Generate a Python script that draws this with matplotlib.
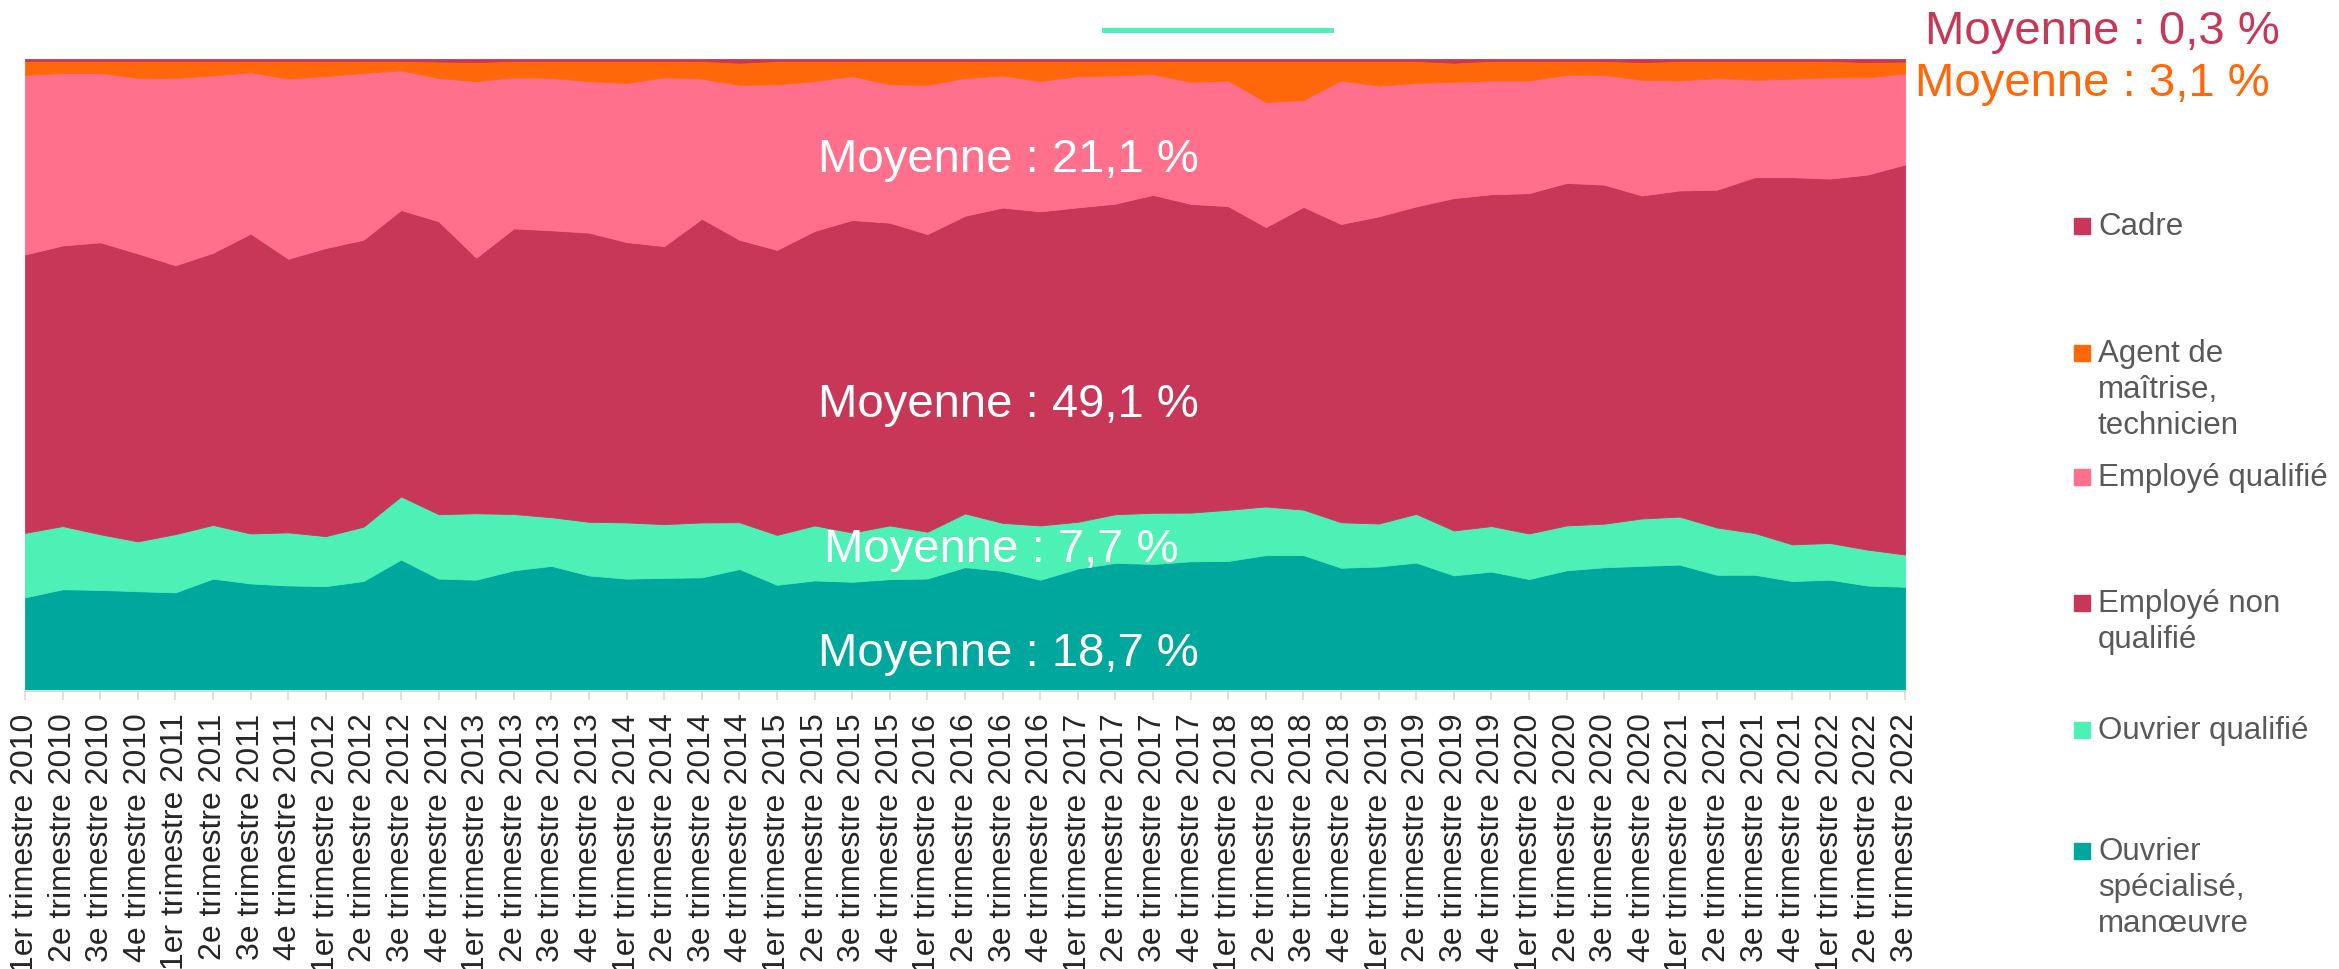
"""
Part of each job category per quarter, 2010-2022, as a 100 % stacked area.

Excel-style look: no y axis, the legend and the "Moyenne" labels are
placed by hand in pixel coordinates of the 2339x970 output.
"""
import numpy as np
import matplotlib
matplotlib.use("Agg")
import matplotlib.pyplot as plt
from matplotlib.lines import Line2D
from matplotlib.patches import Rectangle

W, H = 2339, 970

# ------------------------------------------------------------------ data
QUARTERS = ["1er", "2e", "3e", "4e"]
YEARS = list(range(2010, 2023))
categories = [f"{q} trimestre {y}" for y in YEARS for q in QUARTERS][:51]

ouvrier_specialise = [14.8, 16.1, 16.0, 15.8, 15.6, 17.8, 17.0, 16.7, 16.6, 17.4,
                      20.8, 17.8, 17.6, 19.1, 19.8, 18.3, 17.8, 17.9, 18.0, 19.3,
                      16.8, 17.5, 17.3, 17.7, 17.8, 19.6, 19.0, 17.6, 19.4, 20.3,
                      20.1, 20.5, 20.6, 21.5, 21.5, 19.5, 19.7, 20.3, 18.3, 18.9,
                      17.7, 19.1, 19.6, 19.8, 20.0, 18.4, 18.4, 17.4, 17.6, 16.7, 16.5]
ouvrier_qualifie = [10.2, 10.0, 8.8, 7.9, 9.2, 8.5, 7.9, 8.4, 7.9, 8.6,
                    10.0, 10.2, 10.5, 8.9, 7.7, 8.5, 8.9, 8.5, 8.7, 7.4,
                    7.9, 8.7, 7.8, 8.5, 7.4, 8.5, 7.6, 8.6, 7.4, 7.7,
                    8.1, 7.7, 8.1, 7.7, 7.2, 7.2, 6.8, 7.7, 7.1, 7.2,
                    7.2, 7.1, 6.9, 7.5, 7.6, 7.5, 6.6, 5.8, 5.8, 5.7, 5.1]
employe_non_qualifie = [44.0, 44.4, 46.2, 45.6, 42.5, 43.1, 47.4, 43.3, 45.6, 45.4,
                        45.3, 46.4, 40.4, 45.2, 45.4, 45.8, 44.4, 44.0, 48.1, 44.7,
                        45.1, 46.6, 49.5, 47.9, 47.1, 47.1, 49.9, 49.7, 49.8, 49.2,
                        50.3, 48.8, 48.1, 44.2, 47.9, 47.2, 48.6, 48.6, 52.6, 52.5,
                        53.8, 54.2, 53.7, 51.1, 51.6, 53.5, 56.3, 58.1, 57.6, 59.4, 61.7]
employe_qualifie = [28.4, 27.3, 26.8, 27.8, 29.6, 28.1, 25.5, 28.5, 27.2, 26.4,
                    22.1, 22.7, 27.9, 23.9, 24.1, 24.0, 25.2, 26.7, 22.2, 24.5,
                    26.2, 23.7, 22.8, 21.9, 23.6, 21.8, 20.9, 20.6, 20.8, 20.3,
                    19.1, 19.3, 19.9, 19.8, 16.9, 22.7, 20.7, 19.5, 18.4, 18.0,
                    17.8, 17.1, 17.4, 18.3, 17.4, 17.7, 15.4, 15.6, 16.0, 15.4, 14.4]
agent_maitrise = [2.2, 1.9, 1.9, 2.7, 2.7, 2.3, 1.8, 2.8, 2.4, 1.9,
                  1.5, 2.6, 3.0, 2.6, 2.7, 3.2, 3.5, 2.6, 2.8, 3.5,
                  3.7, 3.2, 2.4, 3.7, 3.8, 2.7, 2.3, 3.2, 2.4, 2.3,
                  2.1, 3.3, 3.1, 6.5, 6.2, 3.1, 3.9, 3.5, 3.0, 3.1,
                  3.1, 2.2, 2.2, 2.8, 3.1, 2.7, 3.0, 2.8, 2.6, 2.4, 1.9]
cadre = [0.3, 0.3, 0.3, 0.3, 0.3, 0.3, 0.3, 0.3, 0.3, 0.3,
         0.3, 0.4, 0.5, 0.3, 0.3, 0.3, 0.3, 0.3, 0.3, 0.6,
         0.3, 0.3, 0.3, 0.3, 0.3, 0.3, 0.3, 0.3, 0.3, 0.3,
         0.3, 0.3, 0.3, 0.3, 0.3, 0.3, 0.3, 0.3, 0.6, 0.3,
         0.3, 0.3, 0.3, 0.5, 0.3, 0.3, 0.3, 0.3, 0.3, 0.5, 0.4]

legend_labels = ["Cadre", "Agent de\nmaîtrise,\ntechnicien", "Employé qualifié",
                 "Employé non\nqualifié", "Ouvrier qualifié",
                 "Ouvrier\nspécialisé,\nmanœuvre"]
average_labels = ["Moyenne : 0,3 %", "Moyenne : 3,1 %", "Moyenne : 21,1 %",
                  "Moyenne : 49,1 %", "Moyenne : 7,7 %", "Moyenne : 18,7 %"]

# ---------------------------------------------------------------- styles
TEAL = "#00A79D"
MINT = "#4DF0B5"
CRIMSON = "#C83757"
PINK = "#FF708D"
ORANGE = "#FF680A"
GREY_TXT = "#595959"
AXIS_GREY = "#D9D9D9"

STACK_COLORS = [TEAL, MINT, CRIMSON, PINK, ORANGE, CRIMSON]
LEGEND_COLORS = [CRIMSON, ORANGE, PINK, CRIMSON, MINT, TEAL]
LEGEND_Y = [227, 354, 478, 604, 731, 852]           # first-line centres, px
AVG_POS = [(1925, 32, CRIMSON), (1915, 84, ORANGE), (818, 160, "white"),
           (818, 405, "white"), (824, 550, "white"), (818, 654, "white")]

plt.rcParams["font.family"] = ["Liberation Sans", "DejaVu Sans"]


def fx(px):
    return px / W


def fy(py):
    return 1 - py / H


fig = plt.figure(figsize=(W / 100, H / 100), dpi=100, facecolor="white")
ax = fig.add_axes([fx(25), fy(692), fx(1905) - fx(25), fy(60) - fy(692)])

stack = np.array([ouvrier_specialise, ouvrier_qualifie, employe_non_qualifie,
                  employe_qualifie, agent_maitrise, cadre], dtype=float)
stack = stack / stack.sum(axis=0) * 100.0
x = np.arange(len(categories))

polys = ax.stackplot(x, stack, colors=STACK_COLORS)
for p, c in zip(polys, STACK_COLORS):
    p.set_edgecolor(c)
    p.set_linewidth(0.6)

ax.set_xlim(0, len(categories) - 1)
ax.set_ylim(0, 100)
ax.set_yticks([])
ax.set_xticks(x)
ax.set_xticklabels(categories, rotation=90, fontsize=23, color="#262626")
ax.tick_params(axis="x", length=6.5, width=1.2, color=AXIS_GREY, pad=9)
for side in ("left", "right", "top"):
    ax.spines[side].set_visible(False)
ax.spines["bottom"].set_color(AXIS_GREY)
ax.spines["bottom"].set_linewidth(1.5)
ax.spines["bottom"].set_zorder(5)

# "Moyenne" labels
for txt, (px, py, col) in zip(average_labels, AVG_POS):
    fig.text(fx(px), fy(py), txt, color=col, fontsize=34,
             ha="left", va="center")

# hand-made legend, one square per entry, lines 36 px apart
for lab, col, y0 in zip(legend_labels, LEGEND_COLORS, LEGEND_Y):
    fig.patches.append(Rectangle((fx(2074), fy(y0 + 8)), 16 / W, 16 / H,
                                 transform=fig.transFigure, color=col))
    for k, line in enumerate(lab.split("\n")):
        fig.text(fx(2098), fy(y0 + 36 * k), line, color=GREY_TXT,
                 fontsize=22.5, ha="left", va="center")

# stray mint stroke above the plot, as in the source
fig.lines.append(Line2D([fx(1104), fx(1331)], [fy(30.5), fy(30.5)],
                        transform=fig.transFigure, color=MINT, lw=3.6))

fig.savefig("out.png", dpi=100, facecolor="white")
